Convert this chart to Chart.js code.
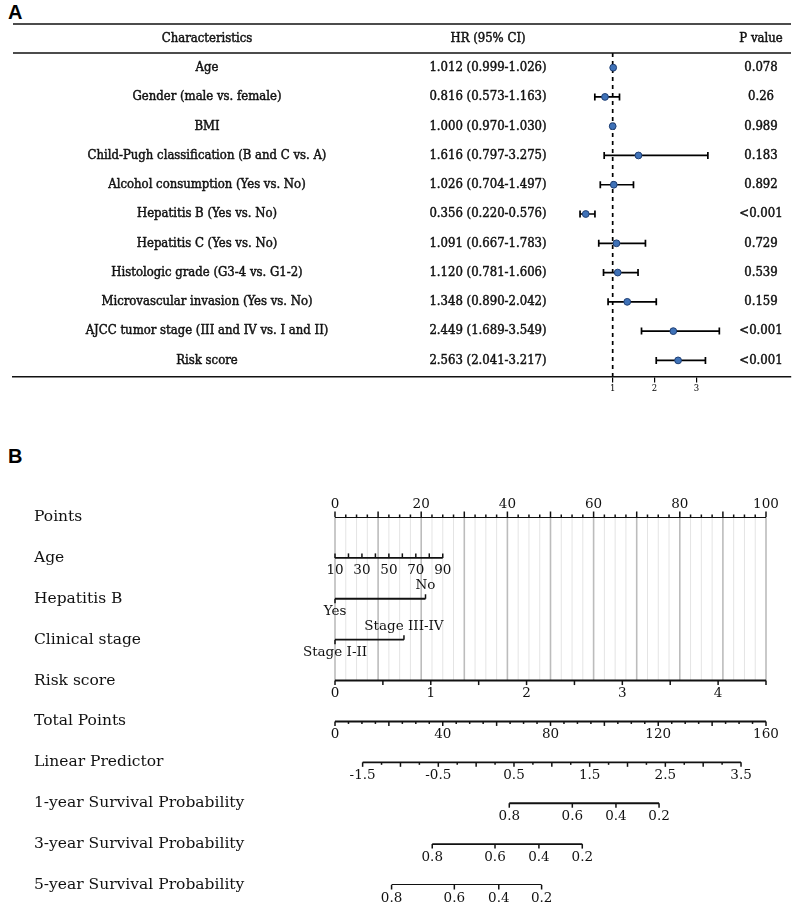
<!DOCTYPE html>
<html>
<head>
<meta charset="utf-8">
<script src="https://cdn.jsdelivr.net/npm/chart.js@4.4.0/dist/chart.umd.min.js"></script>
<style>
  body { margin: 0; background: #fff; width: 796px; height: 906px; position: relative; overflow: hidden; }
  .tag { position: absolute; left: 8px; font: bold 20px "Liberation Sans", Arial, sans-serif; line-height: 1; color: #000; }
  .wrap { position: absolute; left: 0; width: 796px; }
</style>
</head>
<body>
<div class="tag" style="top:2px">A</div>
<div class="wrap" style="top:0;height:420px"><canvas id="forest"></canvas></div>
<div class="tag" style="top:446px">B</div>
<div class="wrap" style="top:420px;height:486px"><canvas id="nomo"></canvas></div>

<script>
// ---- panel A: multivariate Cox forest plot ----
const headers = ['Characteristics', 'HR (95% CI)', 'P value'];
const characteristics = [
  'Age',
  'Gender (male vs. female)',
  'BMI',
  'Child-Pugh classification (B and C vs. A)',
  'Alcohol consumption (Yes vs. No)',
  'Hepatitis B (Yes vs. No)',
  'Hepatitis C (Yes vs. No)',
  'Histologic grade (G3-4 vs. G1-2)',
  'Microvascular invasion (Yes vs. No)',
  'AJCC tumor stage (III and IV vs. I and II)',
  'Risk score'
];
const hr     = [1.012, 0.816, 1.000, 1.616, 1.026, 0.356, 1.091, 1.120, 1.348, 2.449, 2.563];
const ciLow  = [0.999, 0.573, 0.970, 0.797, 0.704, 0.220, 0.667, 0.781, 0.890, 1.689, 2.041];
const ciHigh = [1.026, 1.163, 1.030, 3.275, 1.497, 0.576, 1.783, 1.606, 2.042, 3.549, 3.217];
const pValues = ['0.078', '0.26', '0.989', '0.183', '0.892', '<0.001', '0.729', '0.539', '0.159', '<0.001', '<0.001'];
const hrTicks = [1, 2, 3];
const hrRef = 1;

// ---- panel B: nomogram ----
const rowNames = [
  'Points', 'Age', 'Hepatitis B', 'Clinical stage', 'Risk score', 'Total Points',
  'Linear Predictor', '1-year Survival Probability', '3-year Survival Probability', '5-year Survival Probability'
];
const pointLabels = [0, 20, 40, 60, 80, 100];
const ageLabels = [10, 30, 50, 70, 90];
const ageRange = [10, 90];
const agePointsRange = [0, 25];          // points given at age 10 and age 90
const hepBLevels = ['Yes', 'No'];
const hepBPoints = [0, 21];
const stageLevels = ['Stage I-II', 'Stage III-IV'];
const stagePoints = [0, 16];
const riskLabels = [0, 1, 2, 3, 4];
const riskRange = [0, 4.5];              // risk score spanning 0-100 points
const totalLabels = [0, 40, 80, 120, 160];
const lpLabels = [-1.5, -0.5, 0.5, 1.5, 2.5, 3.5];
const lpAtTotal = [-1.865, 3.83];        // linear predictor at 0 and 160 total points
const survLabels = ['0.8', '0.6', '0.4', '0.2'];
const surv1Total = [64.7, 88.1, 104.3, 120.3];
const surv3Total = [36.1, 59.4, 75.7, 91.8];
const surv5Total = [21.0, 44.3, 60.8, 76.7];

const SERIF = '"DejaVu Serif", serif';
const TABLE_FONT = '13px "DejaVu Serif Condensed", "DejaVu Serif", serif';
const COL_X = [207, 488, 761];

function hrText(i) {
  return `${hr[i].toFixed(3)} (${ciLow[i].toFixed(3)}-${ciHigh[i].toFixed(3)})`;
}

// text with a hairline stroke so it reads a bit heavier, like the figure
function heavyText(ctx, s, x, y) {
  ctx.fillText(s, x, y);
  ctx.strokeText(s, x, y);
}

const errorBars = {
  id: 'errorBars',
  beforeDatasetDraw(chart, args) {
    if (args.index !== 0) return;
    const { ctx, scales: { x, y } } = chart;
    ctx.save();
    ctx.strokeStyle = '#000';
    ctx.lineWidth = 1.7;
    hr.forEach((_, i) => {
      const yy = y.getPixelForValue(i);
      const x0 = x.getPixelForValue(ciLow[i]);
      const x1 = x.getPixelForValue(ciHigh[i]);
      ctx.beginPath();
      ctx.moveTo(x0, yy); ctx.lineTo(x1, yy);
      ctx.moveTo(x0, yy - 3.5); ctx.lineTo(x0, yy + 3.5);
      ctx.moveTo(x1, yy - 3.5); ctx.lineTo(x1, yy + 3.5);
      ctx.stroke();
    });
    ctx.restore();
  }
};

const forestTable = {
  id: 'forestTable',
  afterDraw(chart) {
    const { ctx, chartArea, scales: { y } } = chart;
    ctx.save();
    ctx.strokeStyle = '#111';
    ctx.lineWidth = 1.5;
    [24, chartArea.top].forEach(yy => {
      ctx.beginPath();
      ctx.moveTo(chartArea.left, yy);
      ctx.lineTo(chartArea.right, yy);
      ctx.stroke();
    });
    ctx.font = TABLE_FONT;
    ctx.fillStyle = '#111';
    ctx.lineWidth = 0.45;
    ctx.textAlign = 'center';
    ctx.textBaseline = 'middle';
    headers.forEach((h, k) => heavyText(ctx, h, COL_X[k], 38.5));
    characteristics.forEach((name, i) => {
      const yy = y.getPixelForValue(i);
      heavyText(ctx, name, COL_X[0], yy);
      heavyText(ctx, hrText(i), COL_X[1], yy);
      heavyText(ctx, pValues[i], COL_X[2], yy);
    });
    ctx.restore();
  }
};

new Chart(document.getElementById('forest'), {
  type: 'scatter',
  data: {
    datasets: [
      {
        data: hr.map((v, i) => ({ x: v, y: i })),
        pointRadius: 3.4,
        backgroundColor: '#3f72b8',
        borderColor: '#1f3f74',
        borderWidth: 1
      },
      {
        type: 'line',
        data: [{ x: hrRef, y: -0.5 }, { x: hrRef, y: 10.55 }],
        borderColor: '#000',
        borderWidth: 1.7,
        borderDash: [4, 4],
        pointRadius: 0
      }
    ]
  },
  options: {
    responsive: true,
    maintainAspectRatio: false,
    animation: false,
    events: [],
    layout: { padding: { left: 13, right: 3, top: 53, bottom: 13.5 } },
    plugins: { legend: { display: false }, tooltip: { enabled: false } },
    scales: {
      x: {
        type: 'linear',
        min: -13.333,
        max: 5.262,
        afterBuildTicks: s => { s.ticks = hrTicks.map(v => ({ value: v })); },
        afterFit: s => { s.height = 30; },
        grid: { display: true, drawOnChartArea: false, drawTicks: true, tickLength: 6, color: '#000', lineWidth: 1.2 },
        border: { display: true, color: '#111', width: 1.5 },
        ticks: { autoSkip: false, maxRotation: 0, padding: 1, color: '#000', font: { family: SERIF, size: 8.5 } }
      },
      y: { type: 'linear', reverse: true, min: -0.5, max: 10.55, display: false }
    }
  },
  plugins: [errorBars, forestTable]
});

// ---- nomogram rows: each row is drawn on its own x scale ----
function stepTicks(from, to, step, len, dir, majorEvery, majorLen) {
  const out = [];
  const n = Math.round((to - from) / step);
  for (let k = 0; k <= n; k++) {
    const v = from + k * step;
    const isMajor = majorEvery ? Math.abs(Math.round(v / majorEvery) * majorEvery - v) < 1e-6 : false;
    out.push({ v, len: isMajor ? majorLen : len, dir });
  }
  return out;
}

const ageScaleMax = ageRange[0] + (ageRange[1] - ageRange[0]) * 100 / (agePointsRange[1] - agePointsRange[0]);

const rows = [
  { scale: 'pts', ends: [0, 100],
    ticks: stepTicks(0, 100, 2.5, 2.5, -1, 10, 5.5),
    labels: pointLabels.map(v => ({ v, text: String(v), side: -1 })) },
  { scale: 'age', ends: ageRange,
    ticks: stepTicks(ageRange[0], ageRange[1], 10, 4.5, -1),
    labels: ageLabels.map(v => ({ v, text: String(v), side: 1 })) },
  { scale: 'pts', ends: hepBPoints,
    ticks: [{ v: hepBPoints[0], len: 4.5, dir: 1 }, { v: hepBPoints[1], len: 4.5, dir: -1 }],
    labels: [{ v: hepBPoints[0], text: hepBLevels[0], side: 1 }, { v: hepBPoints[1], text: hepBLevels[1], side: -1 }] },
  { scale: 'pts', ends: stagePoints,
    ticks: [{ v: stagePoints[0], len: 4.5, dir: 1 }, { v: stagePoints[1], len: 4.5, dir: -1 }],
    labels: [{ v: stagePoints[0], text: stageLevels[0], side: 1 }, { v: stagePoints[1], text: stageLevels[1], side: -1 }] },
  { scale: 'risk', ends: riskRange,
    ticks: stepTicks(riskRange[0], riskRange[1], 0.5, 4.5, 1),
    labels: riskLabels.map(v => ({ v, text: String(v), side: 1 })) },
  { scale: 'tot', ends: [0, 160],
    ticks: stepTicks(0, 160, 5, 2.5, 1, 20, 4.5),
    labels: totalLabels.map(v => ({ v, text: String(v), side: 1 })) },
  { scale: 'lp', ends: [lpLabels[0], lpLabels[lpLabels.length - 1]],
    ticks: stepTicks(lpLabels[0], lpLabels[lpLabels.length - 1], 0.25, 2.5, 1, 0.5, 4.5),
    labels: lpLabels.map(v => ({ v, text: String(v), side: 1 })) },
  ...[surv1Total, surv3Total, surv5Total].map(tp => ({
    scale: 'tot', ends: [tp[0], tp[tp.length - 1]],
    ticks: tp.map(v => ({ v, len: 4.5, dir: 1 })),
    labels: tp.map((v, k) => ({ v, text: survLabels[k], side: 1 }))
  }))
];

const nomoDraw = {
  id: 'nomoDraw',
  beforeDatasetsDraw(chart) {
    const { ctx, scales } = chart;
    const top = scales.y.getPixelForValue(0);
    const bottom = scales.y.getPixelForValue(4);
    ctx.save();
    stepTicks(0, 100, 2.5, 0, 0, 10, 1).forEach(t => {
      const xx = scales.pts.getPixelForValue(t.v);
      ctx.strokeStyle = t.len ? '#bcbcbc' : '#e4e4e4';
      ctx.lineWidth = t.len ? 1.6 : 1;
      ctx.beginPath();
      ctx.moveTo(xx, top);
      ctx.lineTo(xx, bottom);
      ctx.stroke();
    });
    ctx.restore();
  },
  afterDatasetsDraw(chart) {
    const { ctx, scales } = chart;
    ctx.save();
    ctx.strokeStyle = '#111';
    ctx.fillStyle = '#111';
    ctx.lineWidth = 1.5;
    ctx.textAlign = 'center';
    ctx.textBaseline = 'middle';
    rows.forEach((row, i) => {
      const sc = scales[row.scale];
      const yy = scales.y.getPixelForValue(i);
      row.ticks.forEach(t => {
        const xx = sc.getPixelForValue(t.v);
        ctx.beginPath();
        ctx.moveTo(xx, yy);
        ctx.lineTo(xx, yy + t.dir * t.len);
        ctx.stroke();
      });
      ctx.font = '13.5px ' + SERIF;
      row.labels.forEach(l => {
        ctx.fillText(l.text, sc.getPixelForValue(l.v), yy + l.side * 13);
      });
    });
    ctx.textAlign = 'left';
    ctx.font = '15.5px ' + SERIF;
    rowNames.forEach((name, i) => ctx.fillText(name, 34, scales.y.getPixelForValue(i)));
    ctx.restore();
  }
};

new Chart(document.getElementById('nomo'), {
  type: 'scatter',
  data: {
    datasets: rows.map((row, i) => ({
      data: row.ends.map(v => ({ x: v, y: i })),
      xAxisID: row.scale,
      showLine: true,
      borderColor: '#111',
      borderWidth: 1.9,
      pointRadius: 0
    }))
  },
  options: {
    responsive: true,
    maintainAspectRatio: false,
    animation: false,
    events: [],
    layout: { padding: { left: 335, right: 30, top: 97, bottom: 21 } },
    plugins: { legend: { display: false }, tooltip: { enabled: false } },
    scales: {
      pts:  { axis: 'x', type: 'linear', min: 0, max: 100, display: false },
      age:  { axis: 'x', type: 'linear', min: ageRange[0], max: ageScaleMax, display: false },
      risk: { axis: 'x', type: 'linear', min: riskRange[0], max: riskRange[1], display: false },
      tot:  { axis: 'x', type: 'linear', min: 0, max: 160, display: false },
      lp:   { axis: 'x', type: 'linear', min: lpAtTotal[0], max: lpAtTotal[1], display: false },
      y:    { type: 'linear', reverse: true, min: 0, max: 9, display: false }
    }
  },
  plugins: [nomoDraw]
});
</script>
</body>
</html>
